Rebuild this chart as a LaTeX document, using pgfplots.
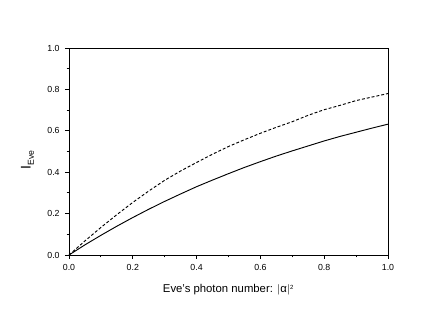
\documentclass[border=0pt]{standalone}
\usepackage{fontspec}
\setmainfont{Liberation Sans}
\usepackage{pgfplots}
\pgfplotsset{compat=1.18}
\begin{document}
\begin{tikzpicture}
\begin{axis}[
  name=ax,
  scale only axis,
  width=239.25pt, height=155.25pt,
  xmin=0, xmax=1, ymin=0, ymax=1,
  xtick={0,0.2,...,1.0}, ytick={0,0.2,...,1.0},
  minor tick num=1,
  tick align=outside,
  xtick pos=left, ytick pos=left,
  major tick length=3pt, minor tick length=1.8pt,
  axis line style={line width=0.7pt},
  every tick/.style={line width=0.6pt, black},
  tick label style={font=\fontsize{6.6}{7.5}\selectfont},
  /pgf/number format/assume math mode=true,
  /pgf/number format/.cd, fixed, fixed zerofill, precision=1, /pgfplots/.cd,
  xticklabel style={yshift=-0.5pt},
  yticklabel style={xshift=-0.5pt},
  xlabel={Eve's photon number: $|$α$|^{\mbox{\fontsize{4.5}{5}\selectfont 2}}$},
  xlabel style={font=\fontsize{8.5}{10}\selectfont, at={(axis description cs:0.5,-0.17)}, anchor=center},
  ylabel={I\raisebox{-0.45ex}{\fontsize{6.5}{7}\selectfont Eve}},
  ylabel style={font=\fontsize{10.5}{12}\selectfont, at={(axis description cs:-0.13,0.46)}, anchor=center},
]
\addplot[black, line width=0.7pt] coordinates {
(0,0) (0.05,0.049) (0.1,0.095) (0.15,0.139) (0.2,0.181) (0.25,0.221) (0.3,0.259) (0.35,0.295)
(0.4,0.330) (0.45,0.362) (0.5,0.393) (0.55,0.423) (0.6,0.451) (0.65,0.478) (0.7,0.503)
(0.75,0.527) (0.8,0.551) (0.85,0.573) (0.9,0.593) (0.95,0.613) (1.0,0.632)};
\addplot[black, line width=0.7pt, dash pattern=on 2.2pt off 1.5pt] coordinates {
(0,0) (0.05,0.068) (0.1,0.133) (0.15,0.195) (0.2,0.254) (0.25,0.309) (0.3,0.361) (0.35,0.406)
(0.4,0.447) (0.45,0.487) (0.5,0.524) (0.55,0.557) (0.6,0.588) (0.65,0.617) (0.7,0.644)
(0.75,0.675) (0.8,0.702) (0.85,0.723) (0.9,0.746) (0.95,0.763) (1.0,0.780)};
\end{axis}
\pgfresetboundingbox
\path[use as bounding box] ([xshift=-51.75pt,yshift=-40.5pt]ax.south west) rectangle ([xshift=36pt,yshift=36pt]ax.north east);
\end{tikzpicture}
\end{document}
